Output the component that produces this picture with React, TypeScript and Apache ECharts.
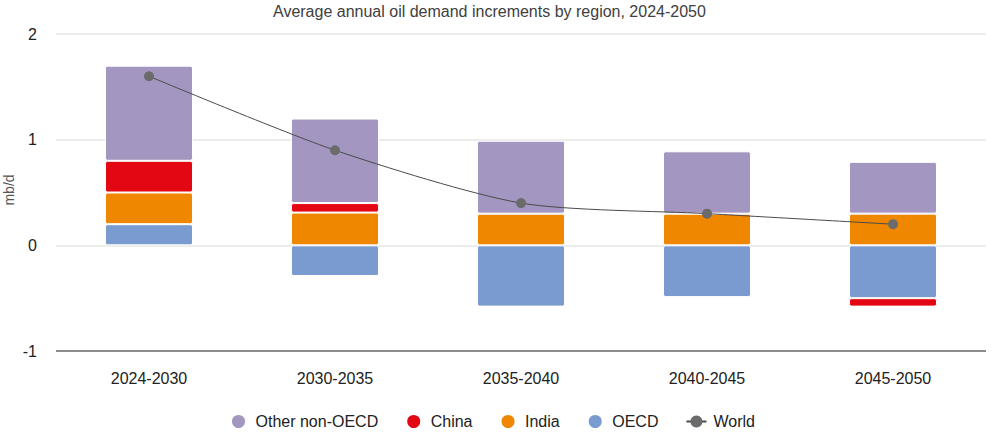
import React, { useEffect, useRef } from "react";
import * as echarts from "echarts";

const categories = ["2024-2030", "2030-2035", "2035-2040", "2040-2045", "2045-2050"];
const oecd = [0.2, -0.29, -0.58, -0.49, -0.5];
const india = [0.3, 0.31, 0.3, 0.3, 0.3];
const china = [0.3, 0.09, 0, 0, -0.08];
const otherNonOecd = [0.9, 0.8, 0.69, 0.59, 0.49];
const world = [1.6, 0.9, 0.4, 0.3, 0.2];

export default function App() {
  const ref = useRef<HTMLDivElement>(null);
  useEffect(() => {
    if (!ref.current) return;
    const chart = echarts.init(ref.current, null, { renderer: "svg" });
    const barStyle = (color: string) => ({
      color,
      borderColor: "#ffffff",
      borderWidth: 1,
      borderRadius: 2,
    });
    chart.setOption({
      animation: false,
      textStyle: { fontFamily: "Arial, Liberation Sans, sans-serif" },
      title: {
        text: "Average annual oil demand increments by region, 2024-2050",
        left: 273,
        top: 3,
        padding: 0,
        textStyle: { fontSize: 16, fontWeight: "normal", color: "#404040" },
      },
      graphic: [
        {
          type: "text",
          x: 9,
          y: 190,
          rotation: Math.PI / 2,
          style: {
            text: "mb/d",
            fontSize: 14,
            fill: "#555",
            align: "center",
            verticalAlign: "middle",
            fontFamily: "Arial, Liberation Sans, sans-serif",
          },
        },
      ],
      grid: { left: 56, right: 20, top: 34, bottom: 88, outerBoundsMode: "none", containLabel: false },
      legend: {
        top: 413,
        left: 230,
        padding: 0,
        data: [
          { name: "Other non-OECD", icon: "circle" },
          { name: "China", icon: "circle" },
          { name: "India", icon: "circle" },
          { name: "OECD", icon: "circle" },
          { name: "World" },
        ],
        itemWidth: 20,
        itemHeight: 15,
        itemGap: 27,
        textStyle: { fontSize: 16, color: "#222", padding: [0, 0, 0, 2] },
      },
      xAxis: {
        type: "category",
        data: categories,
        axisTick: { show: false },
        axisLine: { show: false },
        axisLabel: { fontSize: 16, color: "#222", margin: 19 },
      },
      yAxis: {
        type: "value",
        min: -1,
        max: 2,
        interval: 1,
        axisLabel: { fontSize: 16, color: "#222", margin: 19 },
        splitLine: {
          lineStyle: { color: "#e6e6e6", width: 1.5 },
        },
        axisLine: { show: false },
        axisTick: { show: false },
      },
      series: [
        {
          name: "OECD",
          type: "bar",
          stack: "total",
          barWidth: 88,
          data: oecd,
          itemStyle: barStyle("#7a9bcf"),
        },
        {
          name: "India",
          type: "bar",
          stack: "total",
          data: india,
          itemStyle: barStyle("#f08700"),
        },
        {
          name: "China",
          type: "bar",
          stack: "total",
          data: china,
          itemStyle: barStyle("#e30613"),
        },
        {
          name: "Other non-OECD",
          type: "bar",
          stack: "total",
          data: otherNonOecd,
          itemStyle: barStyle("#a397c1"),
        },
        {
          name: "World",
          type: "line",
          data: world,
          smooth: 0.25,
          symbol: "circle",
          symbolSize: 10,
          itemStyle: { color: "#6b6b6b" },
          lineStyle: { color: "#4a4a4a", width: 1 },
          z: 5,
        },
        {
          type: "line",
          data: [-1, -1, -1, -1, -1],
          silent: true,
          symbol: "none",
          lineStyle: { opacity: 0 },
          markLine: {
            silent: true,
            symbol: "none",
            label: { show: false },
            lineStyle: { color: "#8c8c8c", width: 2, type: "solid" },
            data: [{ yAxis: -1 }],
          },
        },
      ],
    });
    return () => chart.dispose();
  }, []);
  return (
    <div
      ref={ref}
      style={{ position: "absolute", left: 0, top: 0, width: 1006, height: 439 }}
    />
  );
}
